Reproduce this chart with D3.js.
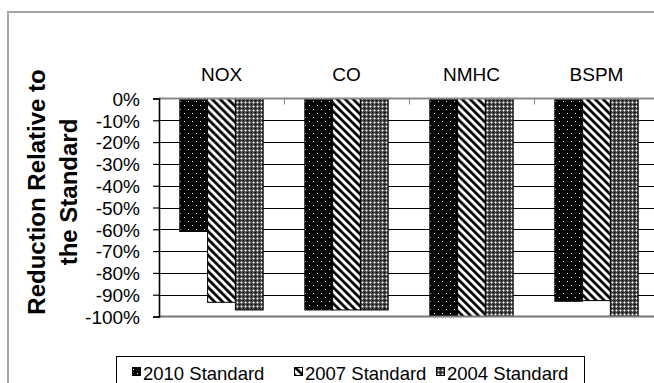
<!DOCTYPE html>
<html><head><meta charset="utf-8">
<script src="https://cdn.jsdelivr.net/npm/d3@7"></script>
<style>html,body{margin:0;padding:0;background:#fff;overflow:hidden}svg{display:block}</style>
</head><body><svg id="chart" width="654" height="383"></svg>
<script>
// Emission reductions relative to each standard, by pollutant
const categories = ["NOX", "CO", "NMHC", "BSPM"];
const seriesNames = ["2010 Standard", "2007 Standard", "2004 Standard"];
const std2010 = [-61, -97, -100, -93];
const std2007 = [-93.5, -97, -100, -92.7];
const std2004 = [-97, -97, -100, -100];
const yTicks = [0, -10, -20, -30, -40, -50, -60, -70, -80, -90, -100];

const seriesValues = [std2010, std2007, std2004];
const patternIds = ["p2010", "p2007", "p2004"];

const FONT = "Arial, 'Liberation Sans', sans-serif";
const svg = d3.select("#chart");

// ---- fill patterns ----
const defs = svg.append("defs");
const pDots = defs.append("pattern").attr("id", "p2010")
  .attr("patternUnits", "userSpaceOnUse").attr("width", 8).attr("height", 8);
pDots.append("rect").attr("width", 8).attr("height", 8).attr("fill", "#000");
pDots.append("rect").attr("x", 1).attr("y", 1).attr("width", 1).attr("height", 1).attr("fill", "#fff");
pDots.append("rect").attr("x", 5).attr("y", 5).attr("width", 1).attr("height", 1).attr("fill", "#fff");

const pDiag = defs.append("pattern").attr("id", "p2007")
  .attr("patternUnits", "userSpaceOnUse").attr("width", 5.66).attr("height", 5.66)
  .attr("patternTransform", "rotate(-45)");
pDiag.append("rect").attr("width", 5.66).attr("height", 5.66).attr("fill", "#fff");
pDiag.append("rect").attr("width", 2.7).attr("height", 5.66).attr("fill", "#000");

// grey crossed texture: dark base, light plus signs, black corner dots
const pGrid = defs.append("pattern").attr("id", "p2004")
  .attr("patternUnits", "userSpaceOnUse").attr("width", 4).attr("height", 4);
pGrid.append("rect").attr("width", 4).attr("height", 4).attr("fill", "#404040");
[[2,1],[1,2],[3,2],[2,3]].forEach(([px, py]) =>
  pGrid.append("rect").attr("x", px).attr("y", py).attr("width", 1).attr("height", 1).attr("fill", "#9a9a9a"));
pGrid.append("rect").attr("x", 2).attr("y", 2).attr("width", 1).attr("height", 1).attr("fill", "#fff");
pGrid.append("rect").attr("x", 0).attr("y", 0).attr("width", 1).attr("height", 1).attr("fill", "#000");

// ---- chart frame ----
svg.append("rect").attr("x", 8).attr("y", 12).attr("width", 700).attr("height", 500)
  .attr("fill", "#fff").attr("stroke", "#a6a6a6").attr("stroke-width", 2);

// ---- scales ----
const plotLeft = 159, plotRight = 659, plotTop = 98.5, plotBottom = 316.5;
const x0 = d3.scaleBand().domain(categories).range([plotLeft, plotRight]).padding(0);
const x1 = d3.scaleBand().domain(seriesNames).range([0, x0.bandwidth()])
  .paddingInner(0).paddingOuter(0.75);
const y = d3.scaleLinear().domain([0, -100]).range([plotTop, plotBottom]);

// gridlines
svg.append("g").selectAll("line").data(yTicks.filter(t => t !== 0 && t !== -100)).join("line")
  .attr("x1", plotLeft).attr("x2", plotRight)
  .attr("y1", d => Math.round(y(d)) + 0.5).attr("y2", d => Math.round(y(d)) + 0.5)
  .attr("stroke", "#000").attr("stroke-width", 1.2);

// bars
const groups = svg.append("g").selectAll("g").data(categories).join("g")
  .attr("transform", c => `translate(${x0(c)},0)`);
groups.selectAll("rect")
  .data((c, ci) => seriesNames.map((s, si) => ({ s, si, v: seriesValues[si][ci] })))
  .join("rect")
  .attr("x", d => x1(d.s))
  .attr("y", y(0))
  .attr("width", x1.bandwidth())
  .attr("height", d => y(d.v) - y(0))
  .attr("fill", d => `url(#${patternIds[d.si]})`)
  .attr("stroke", "#000").attr("stroke-width", 1);

// plot top / bottom lines
svg.append("line").attr("x1", plotLeft).attr("x2", plotRight)
  .attr("y1", y(0)).attr("y2", y(0)).attr("stroke", "#888").attr("stroke-width", 2);
svg.append("line").attr("x1", plotLeft).attr("x2", plotRight)
  .attr("y1", y(-100)).attr("y2", y(-100)).attr("stroke", "#777").attr("stroke-width", 2);

// category tick marks between groups
svg.append("g").selectAll("line").data(categories.slice(1)).join("line")
  .attr("x1", c => Math.round(x0(c)) + 0.5).attr("x2", c => Math.round(x0(c)) + 0.5)
  .attr("y1", y(0)).attr("y2", y(0) + 6)
  .attr("stroke", "#888").attr("stroke-width", 1);

// y axis
const yAxis = svg.append("g").attr("transform", `translate(${plotLeft},0)`)
  .call(d3.axisLeft(y).tickValues(yTicks).tickSize(6).tickPadding(13)
    .tickFormat(d => d + "%"));
yAxis.select(".domain").attr("stroke", "#000").attr("stroke-width", 1.6);
yAxis.selectAll(".tick line").attr("stroke", "#000").attr("stroke-width", 1.2);
yAxis.selectAll("text").attr("font-family", FONT).attr("font-size", 19).attr("fill", "#000")
  .attr("dy", "0.36em");

// category labels above plot
const xAxis = svg.append("g").attr("transform", "translate(0,81)")
  .call(d3.axisTop(x0).tickSize(0).tickPadding(0));
xAxis.select(".domain").remove();
xAxis.selectAll("text").attr("font-family", FONT).attr("font-size", 19).attr("fill", "#000");

// y axis title
const titleLines = ["Reduction Relative to", "the Standard"];
svg.append("g").selectAll("text").data(titleLines).join("text")
  .attr("transform", (d, i) => `translate(${45 + i * 32},192) rotate(-90)`)
  .attr("text-anchor", "middle")
  .attr("font-family", FONT).attr("font-size", 24).attr("font-weight", "bold")
  .attr("fill", "#000").text(d => d);

// legend
svg.append("rect").attr("x", 116.5).attr("y", 356.5).attr("width", 468).attr("height", 60)
  .attr("fill", "#fff").attr("stroke", "#000").attr("stroke-width", 1);
const legendX = [132, 294, 436];
const legend = svg.append("g").selectAll("g").data(seriesNames).join("g")
  .attr("transform", (d, i) => `translate(${legendX[i]},0)`);
legend.append("rect").attr("x", 0.5).attr("y", 367.5).attr("width", 8).attr("height", 8)
  .attr("fill", (d, i) => `url(#${patternIds[i]})`).attr("stroke", "#000");
legend.append("text").attr("x", 11).attr("y", 379.5)
  .attr("font-family", FONT).attr("font-size", 18.5).attr("fill", "#000").text(d => d);
</script>
</body></html>
